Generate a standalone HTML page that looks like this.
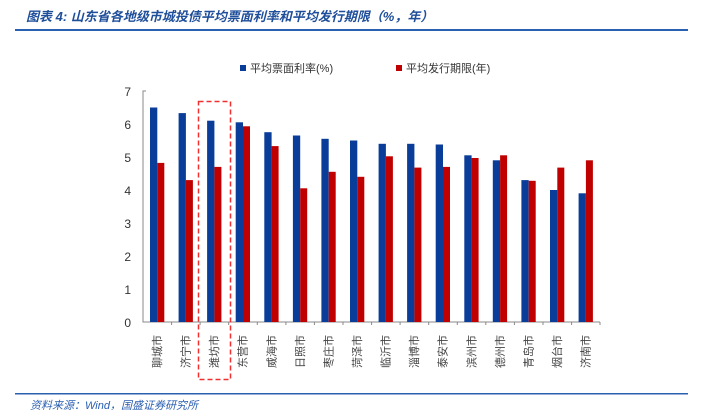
<!DOCTYPE html><html><head><meta charset="utf-8"><style>body{margin:0;background:#fff}svg text{font-family:"Liberation Sans","Noto Sans CJK SC",sans-serif}</style></head><body>
<svg width="705" height="415" xmlns="http://www.w3.org/2000/svg">
<text x="26" y="21" font-size="13" font-style="italic" font-weight="bold" fill="#1f4e9a">图表 4:  山东省各地级市城投债平均票面利率和平均发行期限（%，年）</text>
<rect x="15" y="29" width="673" height="2" fill="#2b5fb0"/>
<rect x="240" y="65" width="6" height="6" fill="#0a3d99"/><text x="250" y="72" font-size="11" fill="#333">平均票面利率(%)</text>
<rect x="396" y="65" width="6" height="6" fill="#c00000"/><text x="406" y="72" font-size="11" fill="#333">平均发行期限(年)</text>
<g font-size="12" fill="#333" text-anchor="end">
<text x="131" y="96">7</text><text x="131" y="129">6</text><text x="131" y="162">5</text><text x="131" y="195">4</text><text x="131" y="228">3</text><text x="131" y="261">2</text><text x="131" y="294">1</text><text x="131" y="327">0</text></g>
<path d="M146 91H143V322H600" stroke="#888" fill="none"/>
<g fill="#0a3d99">
<rect x="150" y="107.5" width="7.3" height="214.5"/>
<rect x="178.6" y="113.1" width="7.3" height="208.9"/>
<rect x="207.1" y="120.7" width="7.3" height="201.3"/>
<rect x="235.7" y="122.3" width="7.3" height="199.7"/>
<rect x="264.3" y="132.2" width="7.3" height="189.8"/>
<rect x="292.9" y="135.5" width="7.3" height="186.5"/>
<rect x="321.4" y="138.8" width="7.3" height="183.2"/>
<rect x="350" y="140.5" width="7.3" height="181.5"/>
<rect x="378.6" y="143.8" width="7.3" height="178.2"/>
<rect x="407.1" y="143.8" width="7.3" height="178.2"/>
<rect x="435.7" y="144.5" width="7.3" height="177.5"/>
<rect x="464.3" y="155.3" width="7.3" height="166.7"/>
<rect x="492.8" y="160.3" width="7.3" height="161.7"/>
<rect x="521.4" y="180.1" width="7.3" height="141.9"/>
<rect x="550" y="190" width="7.3" height="132"/>
<rect x="578.6" y="193.3" width="7.3" height="128.7"/>
</g>
<g fill="#c00000">
<rect x="157.3" y="162.9" width="7" height="159.1"/>
<rect x="185.9" y="180.1" width="7" height="141.9"/>
<rect x="214.4" y="166.9" width="7" height="155.1"/>
<rect x="243" y="126.3" width="7" height="195.7"/>
<rect x="271.6" y="146.1" width="7" height="175.9"/>
<rect x="300.2" y="188.3" width="7" height="133.7"/>
<rect x="328.7" y="171.8" width="7" height="150.2"/>
<rect x="357.3" y="176.8" width="7" height="145.2"/>
<rect x="385.9" y="156.3" width="7" height="165.7"/>
<rect x="414.4" y="167.6" width="7" height="154.4"/>
<rect x="443" y="166.9" width="7" height="155.1"/>
<rect x="471.6" y="158" width="7" height="164"/>
<rect x="500.1" y="155.3" width="7" height="166.7"/>
<rect x="528.7" y="180.8" width="7" height="141.2"/>
<rect x="557.3" y="167.6" width="7" height="154.4"/>
<rect x="585.9" y="160.3" width="7" height="161.7"/>
</g>
<path stroke="#888" d="M171.6 322v3M200.1 322v3M228.7 322v3M257.3 322v3M285.9 322v3M314.4 322v3M343 322v3M371.6 322v3M400.1 322v3M428.7 322v3M457.3 322v3M485.8 322v3M514.4 322v3M543 322v3M571.6 322v3M600 322v3"/>
<g font-size="11" fill="#444" text-anchor="end">
<text transform="translate(161,335) rotate(-90)">聊城市</text>
<text transform="translate(189.6,335) rotate(-90)">济宁市</text>
<text transform="translate(218.1,335) rotate(-90)">潍坊市</text>
<text transform="translate(246.7,335) rotate(-90)">东营市</text>
<text transform="translate(275.3,335) rotate(-90)">威海市</text>
<text transform="translate(303.9,335) rotate(-90)">日照市</text>
<text transform="translate(332.4,335) rotate(-90)">枣庄市</text>
<text transform="translate(361,335) rotate(-90)">菏泽市</text>
<text transform="translate(389.6,335) rotate(-90)">临沂市</text>
<text transform="translate(418.1,335) rotate(-90)">淄博市</text>
<text transform="translate(446.7,335) rotate(-90)">泰安市</text>
<text transform="translate(475.3,335) rotate(-90)">滨州市</text>
<text transform="translate(503.8,335) rotate(-90)">德州市</text>
<text transform="translate(532.4,335) rotate(-90)">青岛市</text>
<text transform="translate(561,335) rotate(-90)">烟台市</text>
<text transform="translate(589.6,335) rotate(-90)">济南市</text>
</g>
<rect x="198.5" y="101.5" width="32" height="278" fill="none" stroke="#f03030" stroke-width="1.5" stroke-dasharray="5,3"/>
<rect x="15" y="393" width="673" height="1.5" fill="#2b5fb0"/>
<text x="30" y="409" font-size="11" font-style="italic" fill="#2b5fb0">资料来源：Wind，国盛证券研究所</text>
</svg></body></html>
